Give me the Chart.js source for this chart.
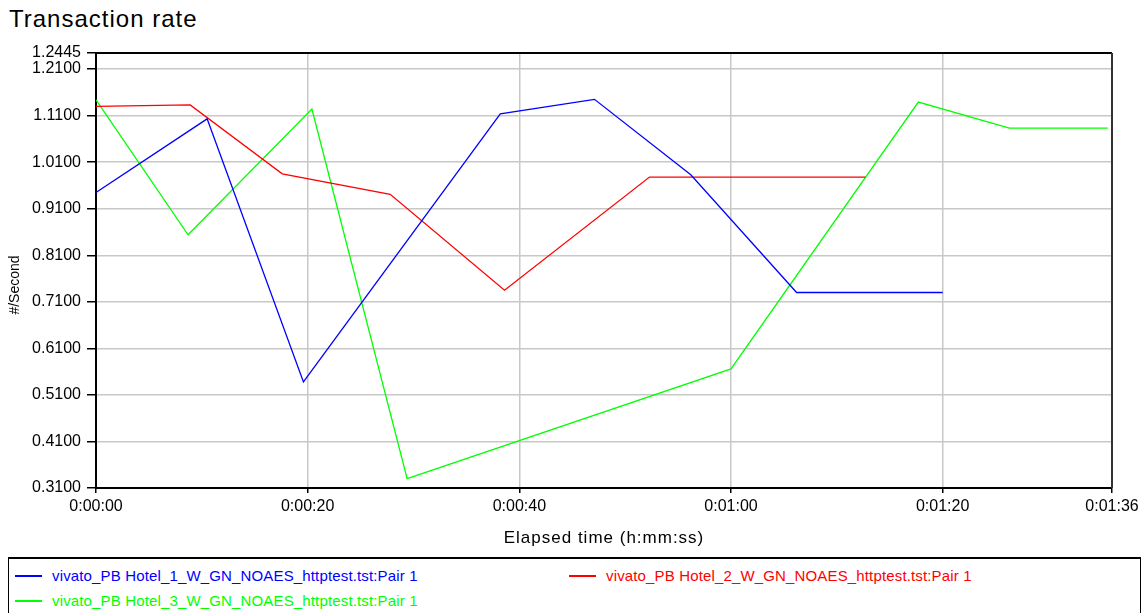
<!DOCTYPE html>
<html>
<head>
<meta charset="utf-8">
<script src="https://cdn.jsdelivr.net/npm/chart.js@4.4.1/dist/chart.umd.min.js"></script>
<style>
    body { margin: 0; background: #fff; font-family: "Liberation Sans", Arial, sans-serif; }
    #title { position: absolute; left: 9px; top: 5px; font-size: 24px; letter-spacing: 1px; color: #000; }
    #wrap { position: absolute; left: 0; top: 0; width: 1146px; height: 552px; }
    #legend { position: absolute; left: 8px; top: 557px; width: 1131px; height: 60px;
              border: 1px solid #000; border-top: 2px solid #000; }
    .item { position: absolute; font-size: 15px; letter-spacing: 0.15px; white-space: nowrap; }
    .item span.swatch { position: absolute; left: 0; top: 8px; width: 27px; height: 2px; }
    .item span.label { position: absolute; left: 37px; top: 0; }
</style>
</head>
<body>
<div id="title">Transaction rate</div>
<div id="wrap"><canvas id="myChart" width="1146" height="552"></canvas></div>
<div id="legend"></div>
<script>
// elapsed seconds and transactions per second
const blueTimes = [0, 10.5, 19.6, 38.2, 47.1, 56.2, 66.2, 80];
const blueRates = [0.945, 1.103, 0.538, 1.114, 1.145, 0.983, 0.730, 0.730];
const redTimes = [0, 8.9, 17.6, 27.8, 38.6, 52.3, 72.7];
const redRates = [1.130, 1.133, 0.985, 0.941, 0.735, 0.978, 0.978];
const greenTimes = [0, 8.7, 20.4, 29.4, 60.0, 77.7, 86.3, 95.6];
const greenRates = [1.144, 0.854, 1.124, 0.330, 0.566, 1.139, 1.083, 1.083];

const seriesNames = [
    'vivato_PB Hotel_1_W_GN_NOAES_httptest.tst:Pair 1',
    'vivato_PB Hotel_2_W_GN_NOAES_httptest.tst:Pair 1',
    'vivato_PB Hotel_3_W_GN_NOAES_httptest.tst:Pair 1'
];
const seriesColors = ['#0000ff', '#ff0000', '#00ff00'];

const xTicks = [0, 20, 40, 60, 80, 96];
const yTicks = [0.31, 0.41, 0.51, 0.61, 0.71, 0.81, 0.91, 1.01, 1.11, 1.21, 1.2445];
const xTitle = 'Elapsed time (h:mm:ss)';
const yTitle = '#/Second';

function toPoints(times, rates) {
    return times.map(function (t, i) { return { x: t, y: rates[i] }; });
}

function hms(sec) {
    const h = Math.floor(sec / 3600);
    const m = Math.floor((sec % 3600) / 60);
    const s = Math.round(sec % 60);
    return h + ':' + String(m).padStart(2, '0') + ':' + String(s).padStart(2, '0');
}

const allSeries = [
    toPoints(blueTimes, blueRates),
    toPoints(redTimes, redRates),
    toPoints(greenTimes, greenRates)
];

// legend box under the chart
const legend = document.getElementById('legend');
const legendPos = [[6, 8], [560, 8], [6, 33]];
seriesNames.forEach(function (name, i) {
    const div = document.createElement('div');
    div.className = 'item';
    div.style.left = legendPos[i][0] + 'px';
    div.style.top = legendPos[i][1] + 'px';
    div.style.color = seriesColors[i];
    div.innerHTML = '<span class="swatch" style="background:' + seriesColors[i] + '"></span>' +
        '<span class="label">' + name + '</span>';
    legend.appendChild(div);
});

// plot frame (top / right) and the two axis titles
const frame = {
    id: 'frame',
    afterDraw: function (chart) {
        const a = chart.chartArea;
        const ctx = chart.ctx;
        ctx.save();
        ctx.strokeStyle = '#000';
        ctx.lineWidth = 2;
        ctx.beginPath();
        ctx.moveTo(a.left, a.top);
        ctx.lineTo(a.right, a.top);
        ctx.stroke();
        ctx.strokeStyle = '#333';
        ctx.beginPath();
        ctx.moveTo(a.right, a.top);
        ctx.lineTo(a.right, a.bottom);
        ctx.stroke();

        ctx.fillStyle = '#000';
        ctx.textAlign = 'center';
        ctx.textBaseline = 'middle';
        ctx.font = '17px "Liberation Sans", Arial, sans-serif';
        ctx.letterSpacing = '1px';
        ctx.fillText(xTitle, (a.left + a.right) / 2, 538);
        ctx.letterSpacing = '0px';
        ctx.font = '14px "Liberation Sans", Arial, sans-serif';
        ctx.translate(15, 285);
        ctx.rotate(-Math.PI / 2);
        ctx.fillText(yTitle, 0, 0);
        ctx.restore();
    }
};

const ctx = document.getElementById('myChart').getContext('2d');
new Chart(ctx, {
    type: 'line',
    data: {
        datasets: allSeries.map(function (pts, i) {
            return {
                label: seriesNames[i],
                data: pts,
                borderColor: seriesColors[i],
                backgroundColor: seriesColors[i],
                borderWidth: 1.3,
                pointRadius: 0,
                tension: 0,
                fill: false
            };
        })
    },
    options: {
        responsive: false,
        animation: false,
        devicePixelRatio: 1,
        layout: { padding: { left: 0, right: 34, top: 53, bottom: 0 } },
        plugins: {
            legend: { display: false },
            tooltip: { enabled: false }
        },
        scales: {
            x: {
                type: 'linear',
                min: 0,
                max: 96,
                afterBuildTicks: function (scale) {
                    scale.ticks = xTicks.map(function (v) { return { value: v }; });
                },
                afterFit: function (scale) { scale.height = 64; },
                ticks: {
                    autoSkip: false,
                    maxRotation: 0,
                    color: '#000',
                    padding: 4,
                    font: { family: 'Liberation Sans', size: 16 },
                    callback: function (v) { return hms(v); }
                },
                grid: { color: '#c8c8c8', lineWidth: 1.5, tickColor: '#000', tickLength: 5 },
                border: { color: '#000', width: 2 }
            },
            y: {
                type: 'linear',
                min: 0.31,
                max: 1.2445,
                afterBuildTicks: function (scale) {
                    scale.ticks = yTicks.map(function (v) { return { value: v }; });
                },
                afterFit: function (scale) { scale.width = 96; },
                ticks: {
                    autoSkip: false,
                    color: '#000',
                    padding: 6,
                    font: { family: 'Liberation Sans', size: 16 },
                    callback: function (v) { return v.toFixed(4); }
                },
                grid: { color: '#c8c8c8', lineWidth: 1.5, tickColor: '#000', tickLength: 9 },
                border: { color: '#000', width: 2 }
            }
        }
    },
    plugins: [frame]
});
</script>
</body>
</html>
